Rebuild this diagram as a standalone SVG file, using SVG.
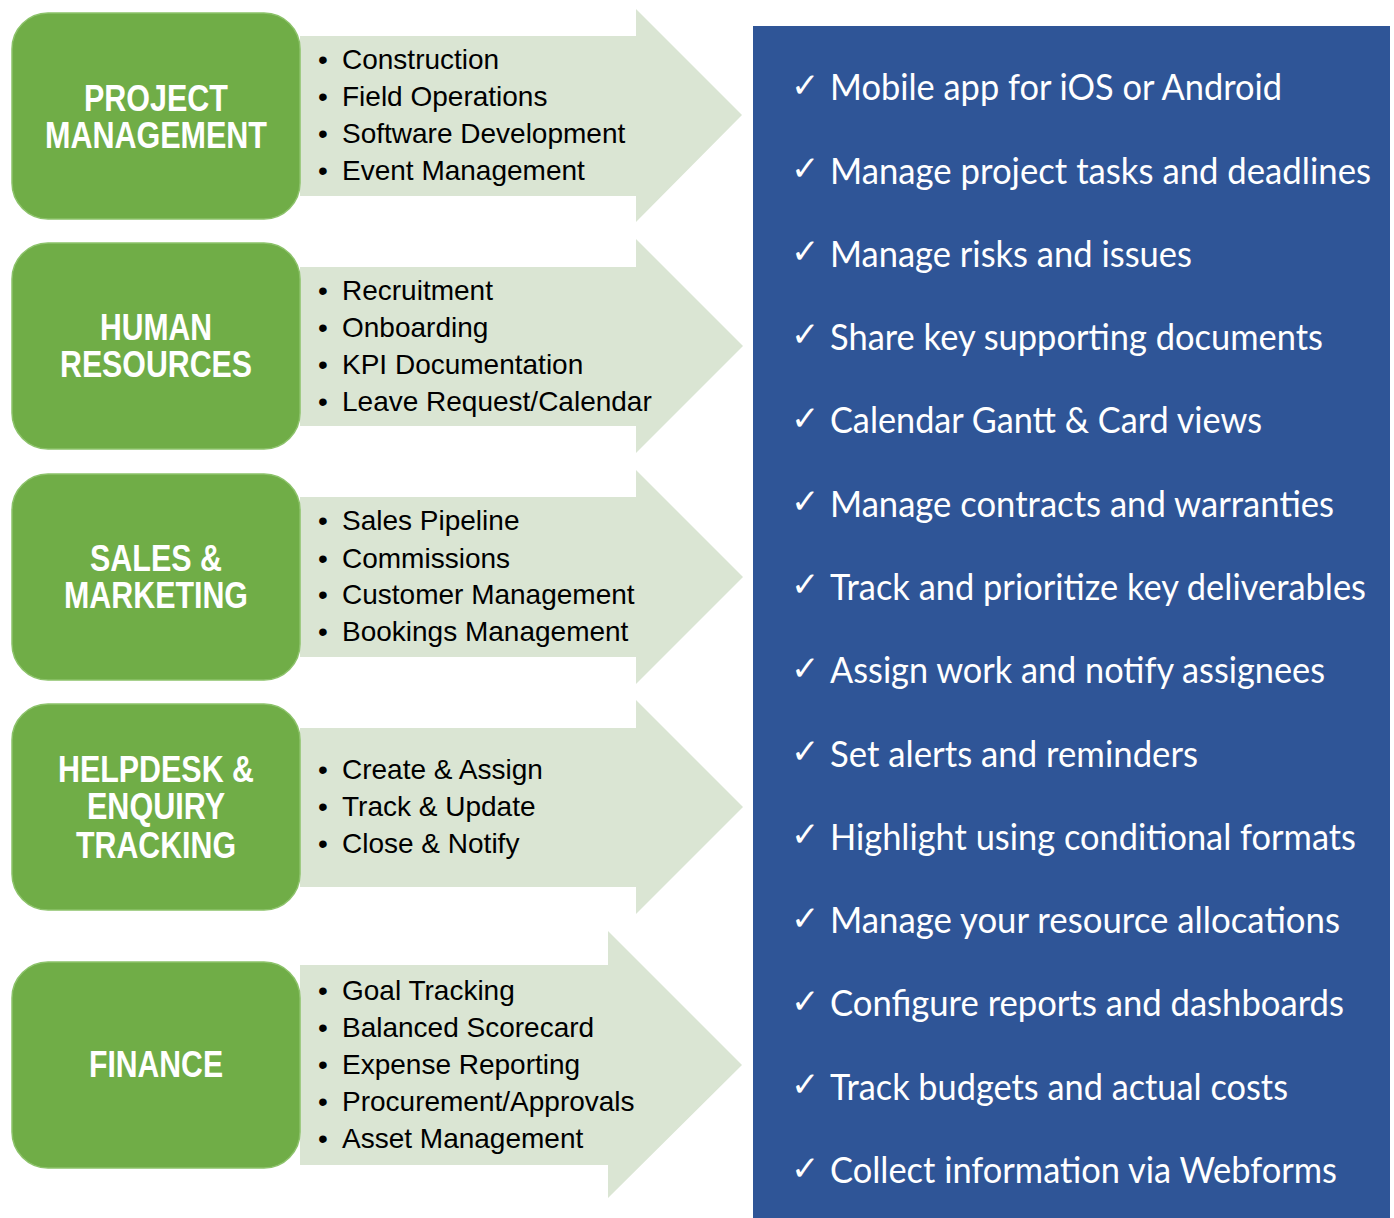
<svg xmlns="http://www.w3.org/2000/svg" width="1394" height="1218" viewBox="0 0 1394 1218">
<style>
.box{fill:#70AD47;stroke:#8CC26A;stroke-width:1.5}
.arr{fill:#DAE5D3}
.lbl{font-family:"Liberation Sans",Arial,sans-serif;font-weight:bold;font-size:36px;fill:#FFFFFF;text-anchor:middle}
.itm{font-family:"Liberation Sans",Arial,sans-serif;font-size:28px;fill:#000000}
.chk{font-family:"DejaVu Sans",sans-serif;font-size:34px;fill:#FFFFFF}
.ft{font-family:Lato,"Open Sans",sans-serif;font-size:36px;fill:#FFFFFF}
</style>
<rect width="1394" height="1218" fill="#FFFFFF"/>
<g id="connectors"/>
<g id="node-project">
<polygon class="arr" points="300,36 636,36 636,9 742,115 636,222 636,196 300,196"/>
<rect class="box" x="12" y="13" width="288" height="206" rx="36"/>
<text class="lbl" x="156" y="111" textLength="144" lengthAdjust="spacingAndGlyphs">PROJECT</text>
<text class="lbl" x="156" y="148" textLength="222" lengthAdjust="spacingAndGlyphs">MANAGEMENT</text>
<text class="itm" y="69"><tspan x="318">•</tspan><tspan x="342">Construction</tspan></text>
<text class="itm" y="106"><tspan x="318">•</tspan><tspan x="342">Field Operations</tspan></text>
<text class="itm" y="143"><tspan x="318">•</tspan><tspan x="342">Software Development</tspan></text>
<text class="itm" y="180"><tspan x="318">•</tspan><tspan x="342">Event Management</tspan></text>
</g>
<g id="node-hr">
<polygon class="arr" points="300,267 636,267 636,239 743,346 636,453 636,426 300,426"/>
<rect class="box" x="12" y="243" width="288" height="206" rx="36"/>
<text class="lbl" x="156" y="340" textLength="112" lengthAdjust="spacingAndGlyphs">HUMAN</text>
<text class="lbl" x="156" y="377" textLength="192" lengthAdjust="spacingAndGlyphs">RESOURCES</text>
<text class="itm" y="300"><tspan x="318">•</tspan><tspan x="342">Recruitment</tspan></text>
<text class="itm" y="337"><tspan x="318">•</tspan><tspan x="342">Onboarding</tspan></text>
<text class="itm" y="374"><tspan x="318">•</tspan><tspan x="342">KPI Documentation</tspan></text>
<text class="itm" y="411"><tspan x="318">•</tspan><tspan x="342">Leave Request/Calendar</tspan></text>
</g>
<g id="node-sales">
<polygon class="arr" points="300,497 636,497 636,470 743,577 636,684 636,657 300,657"/>
<rect class="box" x="12" y="474" width="288" height="206" rx="36"/>
<text class="lbl" x="156" y="571" textLength="132" lengthAdjust="spacingAndGlyphs">SALES &amp;</text>
<text class="lbl" x="156" y="608" textLength="184" lengthAdjust="spacingAndGlyphs">MARKETING</text>
<text class="itm" y="530"><tspan x="318">•</tspan><tspan x="342">Sales Pipeline</tspan></text>
<text class="itm" y="568"><tspan x="318">•</tspan><tspan x="342">Commissions</tspan></text>
<text class="itm" y="604"><tspan x="318">•</tspan><tspan x="342">Customer Management</tspan></text>
<text class="itm" y="641"><tspan x="318">•</tspan><tspan x="342">Bookings Management</tspan></text>
</g>
<g id="node-helpdesk">
<polygon class="arr" points="300,728 636,728 636,700 743,807 636,914 636,887 300,887"/>
<rect class="box" x="12" y="704" width="288" height="206" rx="36"/>
<text class="lbl" x="156" y="782" textLength="196" lengthAdjust="spacingAndGlyphs">HELPDESK &amp;</text>
<text class="lbl" x="156" y="819" textLength="138" lengthAdjust="spacingAndGlyphs">ENQUIRY</text>
<text class="lbl" x="156" y="858" textLength="160" lengthAdjust="spacingAndGlyphs">TRACKING</text>
<text class="itm" y="779"><tspan x="318">•</tspan><tspan x="342">Create &amp; Assign</tspan></text>
<text class="itm" y="816"><tspan x="318">•</tspan><tspan x="342">Track &amp; Update</tspan></text>
<text class="itm" y="853"><tspan x="318">•</tspan><tspan x="342">Close &amp; Notify</tspan></text>
</g>
<g id="node-finance">
<polygon class="arr" points="300,965 608,965 608,931 742,1065 608,1198 608,1165 300,1165"/>
<rect class="box" x="12" y="962" width="288" height="206" rx="36"/>
<text class="lbl" x="156" y="1077" textLength="134" lengthAdjust="spacingAndGlyphs">FINANCE</text>
<text class="itm" y="1000"><tspan x="318">•</tspan><tspan x="342">Goal Tracking</tspan></text>
<text class="itm" y="1037"><tspan x="318">•</tspan><tspan x="342">Balanced Scorecard</tspan></text>
<text class="itm" y="1074"><tspan x="318">•</tspan><tspan x="342">Expense Reporting</tspan></text>
<text class="itm" y="1111"><tspan x="318">•</tspan><tspan x="342">Procurement/Approvals</tspan></text>
<text class="itm" y="1148"><tspan x="318">•</tspan><tspan x="342">Asset Management</tspan></text>
</g>
<g id="node-features">
<rect x="753" y="26" width="637" height="1192" fill="#2F5597"/>
<text class="chk" x="791" y="97">✓</text><text class="ft" x="830" y="100" textLength="452" lengthAdjust="spacingAndGlyphs">Mobile app for iOS or Android</text>
<text class="chk" x="791" y="180">✓</text><text class="ft" x="830" y="184" textLength="541" lengthAdjust="spacingAndGlyphs">Manage project tasks and deadlines</text>
<text class="chk" x="791" y="263">✓</text><text class="ft" x="830" y="267" textLength="362" lengthAdjust="spacingAndGlyphs">Manage risks and issues</text>
<text class="chk" x="791" y="346">✓</text><text class="ft" x="830" y="350" textLength="493" lengthAdjust="spacingAndGlyphs">Share key supporting documents</text>
<text class="chk" x="791" y="430">✓</text><text class="ft" x="830" y="433" textLength="432" lengthAdjust="spacingAndGlyphs">Calendar Gantt &amp; Card views</text>
<text class="chk" x="791" y="513">✓</text><text class="ft" x="830" y="517" textLength="504" lengthAdjust="spacingAndGlyphs">Manage contracts and warranties</text>
<text class="chk" x="791" y="596">✓</text><text class="ft" x="830" y="600" textLength="536" lengthAdjust="spacingAndGlyphs">Track and prioritize key deliverables</text>
<text class="chk" x="791" y="680">✓</text><text class="ft" x="830" y="683" textLength="495" lengthAdjust="spacingAndGlyphs">Assign work and notify assignees</text>
<text class="chk" x="791" y="763">✓</text><text class="ft" x="830" y="767" textLength="368" lengthAdjust="spacingAndGlyphs">Set alerts and reminders</text>
<text class="chk" x="791" y="846">✓</text><text class="ft" x="830" y="850" textLength="526" lengthAdjust="spacingAndGlyphs">Highlight using conditional formats</text>
<text class="chk" x="791" y="930">✓</text><text class="ft" x="830" y="933" textLength="510" lengthAdjust="spacingAndGlyphs">Manage your resource allocations</text>
<text class="chk" x="791" y="1013">✓</text><text class="ft" x="830" y="1016" textLength="514" lengthAdjust="spacingAndGlyphs">Configure reports and dashboards</text>
<text class="chk" x="791" y="1096">✓</text><text class="ft" x="830" y="1100" textLength="458" lengthAdjust="spacingAndGlyphs">Track budgets and actual costs</text>
<text class="chk" x="791" y="1180">✓</text><text class="ft" x="830" y="1183" textLength="507" lengthAdjust="spacingAndGlyphs">Collect information via Webforms</text>
</g>
</svg>
